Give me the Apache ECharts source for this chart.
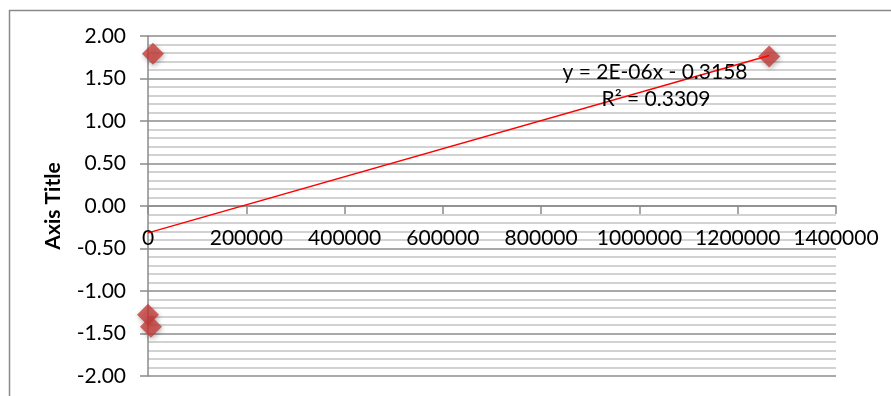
<!DOCTYPE html>
<html>
<head>
<meta charset="utf-8">
<script src="https://cdn.jsdelivr.net/npm/echarts@6/dist/echarts.min.js"></script>
<style>
  html, body { margin: 0; padding: 0; background: #fff; }
  #chart { width: 891px; height: 396px; }
</style>
</head>
<body>
<div id="chart"></div>
<script>
// Observations (x, y)
const xValues = [0, 6000, 10000, 1264000];
const yValues = [-1.28, -1.42, 1.79, 1.76];

// Axis ticks
const xTicks = [0, 200000, 400000, 600000, 800000, 1000000, 1200000, 1400000];
const yTicks = [-2, -1.5, -1, -0.5, 0, 0.5, 1, 1.5, 2];

// Trendline annotation
const trendLabels = ['y = 2E-06x - 0.3158', 'R² = 0.3309'];
const yAxisTitle = 'Axis Title';

// Least-squares linear fit over the observations
function linearFit(xs, ys) {
  const n = xs.length;
  const mx = xs.reduce((a, b) => a + b, 0) / n;
  const my = ys.reduce((a, b) => a + b, 0) / n;
  let sxy = 0, sxx = 0;
  for (let i = 0; i < n; i++) {
    sxy += (xs[i] - mx) * (ys[i] - my);
    sxx += (xs[i] - mx) * (xs[i] - mx);
  }
  const slope = sxy / sxx;
  return { slope, intercept: my - slope * mx };
}

const fit = linearFit(xValues, yValues);
const xMinData = Math.min(...xValues);
const xMaxData = Math.max(...xValues);
const trendData = [
  [xMinData, fit.intercept + fit.slope * xMinData],
  [xMaxData, fit.intercept + fit.slope * xMaxData]
];

const points = xValues.map((x, i) => [x, yValues[i]]);
const font = 'Lato';

const gridTop = 36, gridBottom = 20, chartH = 396;
const yMin = yTicks[0], yMax = yTicks[yTicks.length - 1];
// distance from the bottom edge of the grid up to y = 0
const zeroLift = (chartH - gridTop - gridBottom) * (0 - yMin) / (yMax - yMin);

const chart = echarts.init(document.getElementById('chart'), null, { renderer: 'canvas' });
chart.setOption({
  animation: false,
  backgroundColor: '#fff',
  grid: { left: 148, right: 55, top: gridTop, bottom: gridBottom, containLabel: false },
  xAxis: {
    type: 'value',
    position: 'bottom',
    offset: -zeroLift,
    min: xTicks[0],
    max: xTicks[xTicks.length - 1],
    interval: xTicks[1] - xTicks[0],
    axisLine: { show: true, onZero: false, lineStyle: { color: '#8a8a8a', width: 1.5 } },
    axisTick: { show: true, length: 8, lineStyle: { color: '#8a8a8a', width: 1.5 } },
    axisLabel: { color: '#000', fontFamily: font, fontSize: 21, margin: 22,
      hideOverlap: false, formatter: v => String(v) },
    splitLine: { show: false }
  },
  yAxis: {
    type: 'value',
    min: yMin,
    max: yMax,
    interval: yTicks[1] - yTicks[0],
    name: yAxisTitle,
    nameLocation: 'middle',
    nameRotate: 90,
    nameGap: 84,
    nameTextStyle: { color: '#000', fontFamily: font, fontSize: 21, fontWeight: 'bold' },
    axisLine: { show: true, onZero: false, lineStyle: { color: '#8a8a8a', width: 1.5 } },
    axisTick: { show: true, length: 8, lineStyle: { color: '#8a8a8a', width: 1.5 } },
    axisLabel: { color: '#000', fontFamily: font, fontSize: 21, margin: 22,
      hideOverlap: false, formatter: v => v.toFixed(2) },
    splitLine: { show: true, lineStyle: { color: '#8c8c8c', width: 1.5 } },
    minorTick: { show: false, splitNumber: 5 },
    minorSplitLine: { show: true, lineStyle: { color: '#c4c4c4', width: 1.5 } }
  },
  graphic: [
    {
      type: 'rect', z: -1, silent: true,
      shape: { x: 9.5, y: 10.5, width: 900, height: 400 },
      style: { fill: 'none', stroke: '#8a8a8a', lineWidth: 1.5 }
    },
    {
      type: 'text', z: 100, x: 655, y: 72,
      style: { text: trendLabels[0], fill: '#000', font: '21px ' + font,
        textAlign: 'center', textVerticalAlign: 'middle' }
    },
    {
      type: 'text', z: 100, x: 656, y: 99,
      style: { text: trendLabels[1], fill: '#000', font: '21px ' + font,
        textAlign: 'center', textVerticalAlign: 'middle' }
    }
  ],
  series: [
    {
      type: 'line',
      data: trendData,
      showSymbol: false,
      symbol: 'none',
      lineStyle: { color: '#ff0000', width: 1.5 },
      z: 3
    },
    {
      type: 'scatter',
      data: points,
      symbol: 'diamond',
      symbolSize: [22, 22],
      clip: false,
      itemStyle: {
        color: '#c63c3a',
        shadowColor: 'rgba(0,0,0,0.35)',
        shadowBlur: 5,
        shadowOffsetX: 1,
        shadowOffsetY: 2
      },
      z: 2
    }
  ]
});
</script>
</body>
</html>
